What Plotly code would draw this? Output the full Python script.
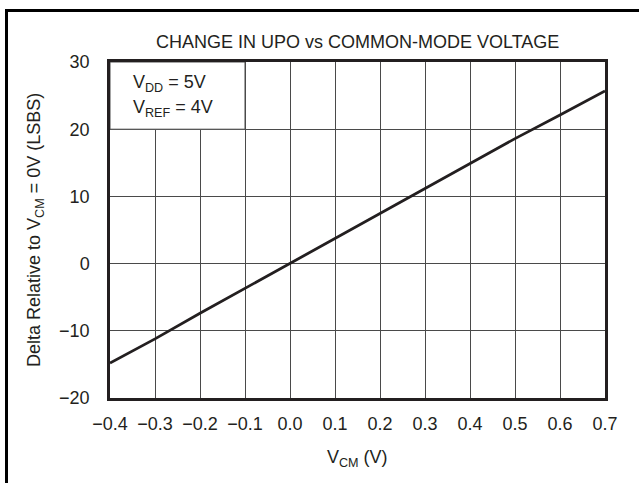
import plotly.graph_objects as go

# Common-mode voltage sweep (V) and resulting change in UPO (LSBs)
v_cm = [-0.4, -0.3, -0.2, -0.1, 0.0, 0.1, 0.2, 0.3, 0.4, 0.5, 0.6, 0.7]
delta_lsb = [-14.8, -11.2, -7.4, -3.7, 0.0, 3.7, 7.4, 11.1, 14.8, 18.6, 22.1, 25.7]

x_ticks = [-0.4, -0.3, -0.2, -0.1, 0.0, 0.1, 0.2, 0.3, 0.4, 0.5, 0.6, 0.7]
y_ticks = [-20, -10, 0, 10, 20, 30]

FONT = "Liberation Sans, Arial, Helvetica, sans-serif"
FS = 18
INK = "#231f20"
GRID = "#4a4a4a"

fig = go.Figure()
fig.add_trace(go.Scatter(
    x=v_cm, y=delta_lsb, mode="lines",
    line=dict(color=INK, width=2.8),
    showlegend=False, hoverinfo="skip",
))

W, H = 639, 483
L, R, T, B = 110, 34, 62, 85
pw, ph = W - L - R, H - T - B


def px_x(p):
    return (p - L) / pw


def px_y(p):
    return (H - B - p) / ph


fig.update_layout(
    width=W, height=H,
    margin=dict(l=L, r=R, t=T, b=B, pad=0),
    paper_bgcolor="white", plot_bgcolor="white",
    font=dict(family=FONT, size=FS, color=INK),
    xaxis=dict(
        range=[-0.4, 0.7], tickvals=x_ticks, tickformat=".1f",
        showgrid=True, gridcolor=GRID, gridwidth=1,
        zeroline=False, showline=True, linecolor=INK, linewidth=2.5,
        mirror=True, ticks="", ticklabelstandoff=8,
        tickfont=dict(family=FONT, size=FS, color=INK),
    ),
    yaxis=dict(
        range=[-20, 30], tickvals=y_ticks,
        showgrid=True, gridcolor=GRID, gridwidth=1,
        zeroline=False, showline=True, linecolor=INK, linewidth=2.5,
        mirror=True, ticks="", ticklabelstandoff=14,
        tickfont=dict(family=FONT, size=FS, color=INK),
    ),
    shapes=[
        # condition box in the upper-left corner
        dict(type="rect", xref="x", yref="y", x0=-0.4, x1=-0.1, y0=20, y1=30,
             fillcolor="white", line=dict(color=GRID, width=1), layer="between"),
        # outer frame
        dict(type="rect", xref="paper", yref="paper",
             x0=px_x(6.5), x1=px_x(660), y0=px_y(500), y1=px_y(10.5),
             line=dict(color="black", width=3), fillcolor="rgba(0,0,0,0)",
             layer="above"),
    ],
    annotations=[
        dict(text="CHANGE IN UPO vs COMMON-MODE VOLTAGE", xref="paper", yref="paper",
             x=0.5, y=px_y(41.5), xanchor="center", yanchor="middle",
             showarrow=False, font=dict(family=FONT, size=FS, color=INK)),
        dict(text="V<sub>CM</sub> (V)", xref="paper", yref="paper",
             x=0.5, y=px_y(458), xanchor="center", yanchor="middle",
             showarrow=False, font=dict(family=FONT, size=FS, color=INK)),
        dict(text="Delta Relative to V<sub>CM</sub> = 0V (LSBS)", xref="paper", yref="paper",
             x=px_x(35), y=0.5, xanchor="center", yanchor="middle", textangle=-90,
             showarrow=False, font=dict(family=FONT, size=FS, color=INK)),
        dict(text="V<sub>DD</sub> = 5V", xref="paper", yref="paper",
             x=px_x(131), y=px_y(83), xanchor="left", yanchor="middle",
             showarrow=False, font=dict(family=FONT, size=FS, color=INK)),
        dict(text="V<sub>REF</sub> = 4V", xref="paper", yref="paper",
             x=px_x(131), y=px_y(109), xanchor="left", yanchor="middle",
             showarrow=False, font=dict(family=FONT, size=FS, color=INK)),
    ],
)

fig.write_html("out.html")
